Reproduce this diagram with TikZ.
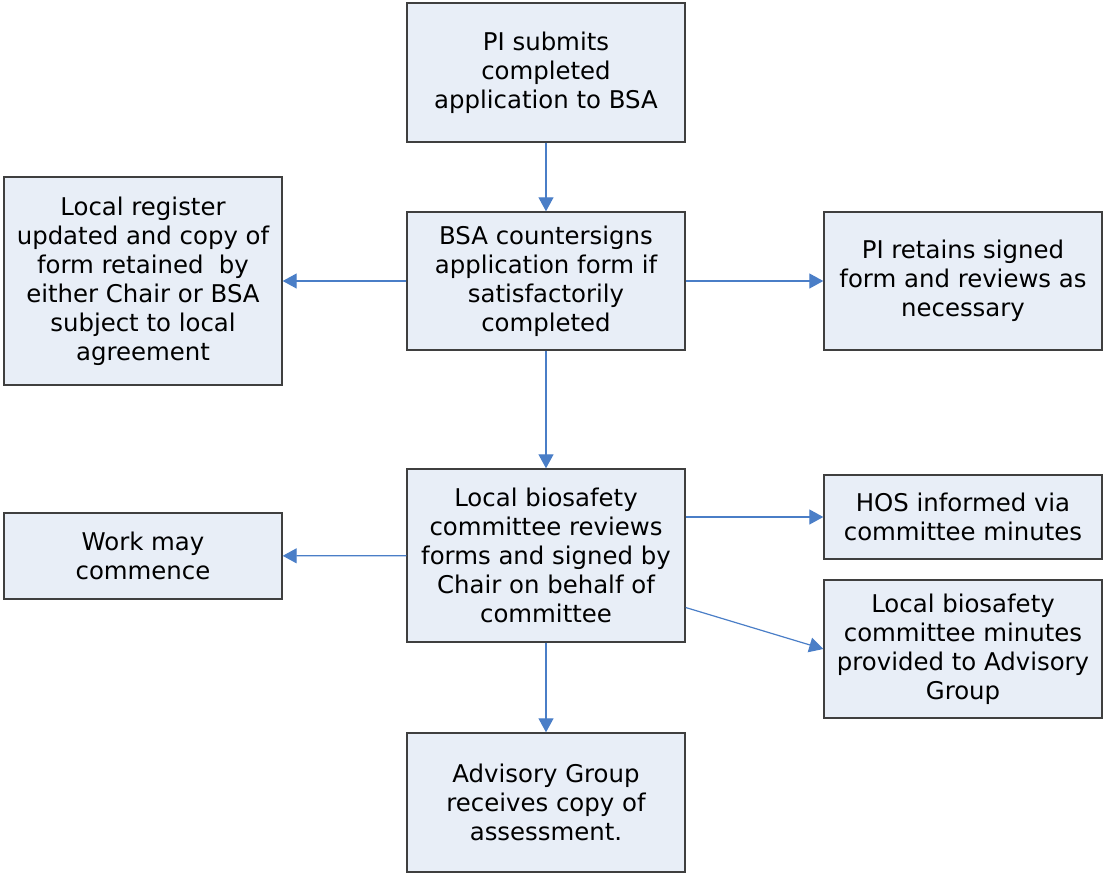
\documentclass[tikz,border=0pt]{standalone}
\usepackage{fontspec}
\setmainfont{DejaVu Sans}
\usetikzlibrary{arrows.meta,calc}
\definecolor{boxfill}{HTML}{E8EEF7}
\definecolor{boxline}{HTML}{3F3F3F}
\definecolor{flowblue}{HTML}{4A7EC7}
\tikzset{
  stagebox/.style={draw=boxline, fill=boxfill, line width=0.7pt, minimum width=139pt,
    align=center, inner sep=0pt,
    font=\fontsize{12.2pt}{14.5pt}\selectfont},
  flow/.style={draw=flowblue, line width=0.6pt, -{Triangle[length=7pt,width=7.5pt]}}
}
\begin{document}
\begin{tikzpicture}[x=0.5pt, y=-0.5pt]
  \useasboundingbox (0,0) rectangle (1104,874);
  % Main column.
  \node[stagebox, minimum height=69.5pt] (submit) at (546,72.5) {PI submits\\completed\\application to BSA};
  \node[stagebox, minimum height=69pt] (counter) at (546,281) {BSA countersigns\\application form if\\satisfactorily\\completed};
  \node[stagebox, minimum height=86.5pt] (review) at (546,555.5) {Local biosafety\\committee reviews\\forms and signed by\\Chair on behalf of\\committee};
  \node[stagebox, minimum height=69.5pt] (advisory) at (546,802.5) {Advisory Group\\receives copy of\\assessment.};
  % Side boxes.
  \node[stagebox, minimum height=104pt] (register) at (143,281) {Local register\\updated and copy of\\form retained\ \ by\\either Chair or BSA\\subject to local\\agreement};
  \node[stagebox, minimum height=69pt] (retain) at (963,281) {PI retains signed\\form and reviews as\\necessary};
  \node[stagebox, minimum height=43pt] (work) at (143,556) {Work may\\commence};
  \node[stagebox, minimum height=42pt] (hos) at (963,517) {HOS informed via\\committee minutes};
  \node[stagebox, minimum height=69pt] (minutes) at (963,649) {Local biosafety\\committee minutes\\provided to Advisory\\Group};
  % The flow.
  \draw[flow] (submit) -- (counter);
  \draw[flow] (counter) -- (register);
  \draw[flow] (counter) -- (retain);
  \draw[flow] (counter) -- (review);
  \draw[flow] (review) -- (work);
  \draw[flow] (review.east |- hos) -- (hos.west);
  \draw[flow] ($(review.east)+(0,52)$) -- (minutes.west);
  \draw[flow] (review) -- (advisory);
\end{tikzpicture}
\end{document}
